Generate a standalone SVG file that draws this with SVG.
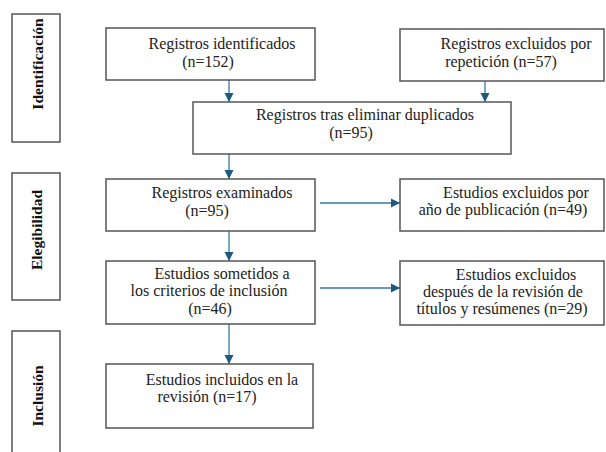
<svg xmlns="http://www.w3.org/2000/svg" width="606" height="452" viewBox="0 0 606 452">
<style>
.box{fill:#fff;stroke:#555;stroke-width:1.5}
.t{font-family:"Liberation Serif","Times New Roman",serif;font-size:16px;fill:#222;text-anchor:middle}
.v{font-family:"Liberation Serif","Times New Roman",serif;font-size:15.5px;font-weight:bold;fill:#111;text-anchor:middle}
.c{stroke:#3579a0;stroke-width:1.3;fill:none;marker-end:url(#ah)}
</style>
<defs>
<marker id="ah" markerUnits="userSpaceOnUse" markerWidth="10" markerHeight="10" refX="9" refY="5" orient="auto" viewBox="0 0 10 10">
<path d="M0,0.5 L9,5 L0,9.5 Z" fill="#1d5a80"/>
</marker>
</defs>
<rect width="606" height="452" fill="#fff"/>
<g id="phase-identificacion">
<rect class="box" x="12" y="14" width="48" height="128"/>
<text class="v" transform="translate(43,64) rotate(-90)">Identificación</text>
</g>
<g id="phase-elegibilidad">
<rect class="box" x="12" y="173" width="48" height="127"/>
<text class="v" transform="translate(42,230) rotate(-90)">Elegibilidad</text>
</g>
<g id="phase-inclusion">
<path class="box" d="M12,453 V331 H60 V453"/>
<text class="v" transform="translate(43,396) rotate(-90)">Inclusión</text>
</g>
<g id="connectors">
<line class="c" x1="229" y1="80" x2="229" y2="102"/>
<line class="c" x1="485" y1="81" x2="485" y2="102"/>
<line class="c" x1="229" y1="154" x2="229" y2="179"/>
<line class="c" x1="229" y1="231" x2="229" y2="261"/>
<line class="c" x1="229" y1="324" x2="229" y2="364"/>
<line class="c" x1="320" y1="203" x2="400" y2="203"/>
<line class="c" x1="320" y1="288" x2="400" y2="288"/>
</g>
<g id="n1">
<rect class="box" x="106" y="28" width="209" height="52"/>
<text class="t" x="222" y="49">Registros identificados</text>
<text class="t" x="208" y="67">(n=152)</text>
</g>
<g id="n2">
<rect class="box" x="400" y="29" width="204" height="52"/>
<text class="t" x="516" y="49">Registros excluidos por</text>
<text class="t" x="501" y="67">repetición (n=57)</text>
</g>
<g id="n3">
<rect class="box" x="193" y="102" width="318" height="52"/>
<text class="t" x="365" y="120">Registros tras eliminar duplicados</text>
<text class="t" x="351" y="138">(n=95)</text>
</g>
<g id="n4">
<rect class="box" x="106" y="179" width="209" height="52"/>
<text class="t" x="222" y="198">Registros examinados</text>
<text class="t" x="207" y="216">(n=95)</text>
</g>
<g id="n5">
<rect class="box" x="106" y="261" width="209" height="63"/>
<text class="t" x="222" y="279">Estudios sometidos a</text>
<text class="t" x="209" y="296">los criterios de inclusión</text>
<text class="t" x="210" y="314">(n=46)</text>
</g>
<g id="n6">
<rect class="box" x="400" y="179" width="204" height="52"/>
<text class="t" x="516" y="198">Estudios excluidos por</text>
<text class="t" x="503" y="215">año de publicación (n=49)</text>
</g>
<g id="n7">
<rect class="box" x="400" y="261" width="204" height="64"/>
<text class="t" x="516" y="280">Estudios excluidos</text>
<text class="t" x="503" y="297">después de la revisión de</text>
<text class="t" x="502" y="314">títulos y resúmenes (n=29)</text>
</g>
<g id="n8">
<rect class="box" x="106" y="364" width="207" height="64"/>
<text class="t" x="222" y="385">Estudios incluidos en la</text>
<text class="t" x="207" y="402">revisión (n=17)</text>
</g>
</svg>
